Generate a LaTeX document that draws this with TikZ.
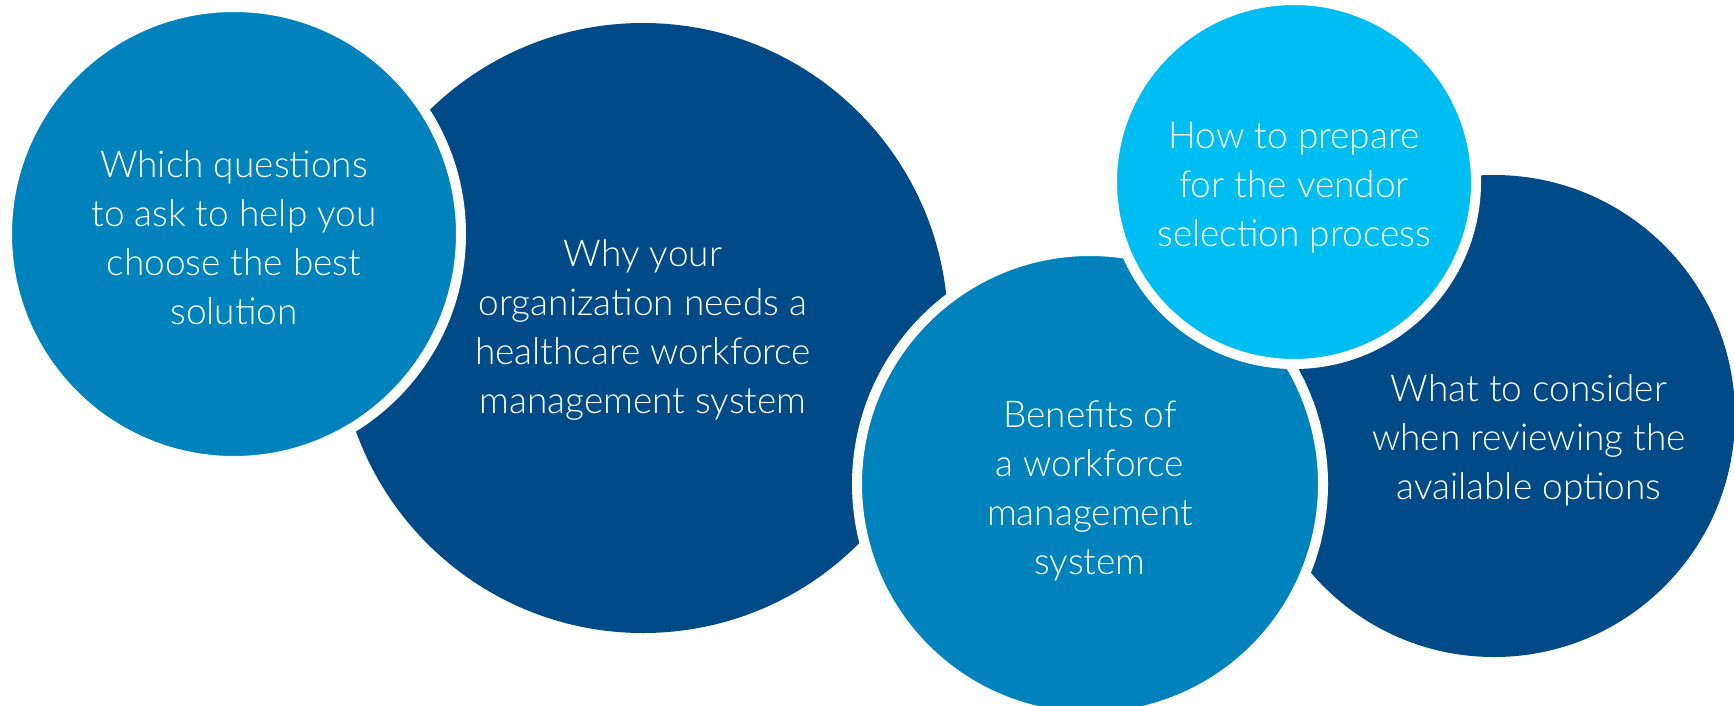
\documentclass[tikz,border=0pt]{standalone}
\usepackage{fontspec}
\setmainfont{Lato Light}
\usetikzlibrary{positioning}
\definecolor{hcdark}{RGB}{0,74,135}
\definecolor{hcmid}{RGB}{0,131,188}
\definecolor{hclight}{RGB}{0,189,242}
\tikzset{
  bubble/.style={circle, draw=white, line width=10pt, inner sep=0pt},
  bubbletext/.style={text=white, align=center, font=\fontsize{37}{49}\selectfont},
}
\begin{document}
\begin{tikzpicture}[x=1pt,y=-1pt]
\useasboundingbox (0,0) rectangle (1734,705);
% dark circles at the back
\node[bubble, draw=none, fill=hcdark, minimum size=610pt] (why) at (643,328) {};
\node[bubble, draw=none, fill=hcdark, minimum size=482pt] (options) at (1494,416) {};
% circles with a white rim on top
\node[bubble, fill=hcmid, minimum size=454pt] (questions) at (234,234) {};
\node[bubble, fill=hcmid, minimum size=466pt] (benefits) at (1090,484) {};
\node[bubble, fill=hclight, minimum size=364pt] (prepare) at (1294,182) {};
% texts
\node[bubbletext] (questionstxt) at ([yshift=-4pt]questions.center) {Which questions\\to ask to help you\\choose the best\\solution};
\node[bubbletext] (whytxt) at ([yshift=-2pt]why.center) {Why your\\organization needs a\\healthcare workforce\\management system};
\node[bubbletext] (benefitstxt) at ([yshift=-7pt]benefits.center) {Benefits of\\a workforce\\management\\system};
\node[bubbletext] (preparetxt) at ([yshift=-6pt]prepare.center) {How to prepare\\for the vendor\\selection process};
\node[bubbletext] (optionstxt) at ([xshift=35pt,yshift=-24pt]options.center) {What to consider\\when reviewing the\\available options};
\end{tikzpicture}
\end{document}
